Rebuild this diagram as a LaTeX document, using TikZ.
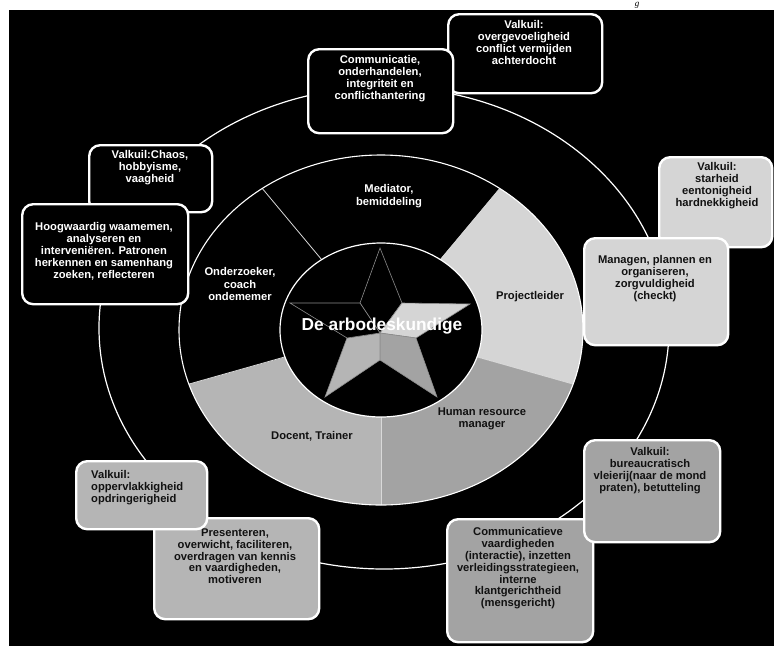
\documentclass[tikz,border=0pt]{standalone}
\usepackage{fontspec}
\setmainfont{Liberation Serif}
\setsansfont{Liberation Sans}
\definecolor{lightgr}{HTML}{D5D5D5}
\definecolor{midgr}{HTML}{B5B5B5}
\definecolor{darkgr}{HTML}{A3A3A3}
\definecolor{stargr}{HTML}{8C8C8C}
\definecolor{ink}{HTML}{111111}
\begin{document}
\begin{tikzpicture}[x=1pt,y=-1pt,
	box/.style={draw=white,line width=2.4pt,rounded corners=11pt,inner sep=0pt,anchor=north west},
	boxtxt/.style={font=\sffamily\bfseries\fontsize{11.2}{11.8}\selectfont,align=center,inner sep=0pt,anchor=north,text=ink},
	ringtxt/.style={font=\sffamily\bfseries\fontsize{11.2}{12.3}\selectfont,align=center,inner sep=0pt,text=ink}]
	\useasboundingbox (0,0) rectangle (774,646);
	\fill (9,10) rectangle (774,646);
	\node[font=\itshape\fontsize{9}{9}\selectfont,anchor=base,inner sep=0pt] (pageg) at (637,6) {g};
	% outer ellipse
	\draw[white,line width=1.2pt] (384,328) ellipse[x radius=285,y radius=241];
	% ring of roles
	\coordinate (ctr) at (381,330);
	\foreach \a/\col in {18/darkgr,90/midgr,162/black,234/black,306/lightgr}
		\fill[\col] (ctr) -- ++(\a:202 and 175) arc[start angle=\a,delta angle=72,x radius=202,y radius=175] -- cycle;
	\foreach \a in {18,90,162,234,306}
		\draw[white!85!black,line width=0.8pt] (ctr) ++(\a:101 and 87) -- ++(\a:101 and 88);
	\draw[white,line width=1.1pt] (ctr) ellipse[x radius=202,y radius=175];
	\filldraw[fill=black,draw=white,line width=1.2pt] (ctr) ellipse[x radius=101,y radius=87];
	% star
	\coordinate (st) at (380,333);
	\coordinate (o1) at (380,248); \coordinate (o2) at (470,304); \coordinate (o3) at (437,397);
	\coordinate (o4) at (325,397); \coordinate (o5) at (290,303);
	\coordinate (i1) at (360,303); \coordinate (i2) at (402,303); \coordinate (i3) at (416,338);
	\coordinate (i4) at (380,360); \coordinate (i5) at (347,338); \coordinate (i6) at (360,303);
	\foreach \k/\n/\col in {1/2/black,2/3/lightgr,3/4/darkgr,4/5/midgr,5/6/black}
		\filldraw[fill=\col,draw=stargr,line width=0.6pt] (st) -- (i\k) -- (o\k) -- (i\n) -- cycle;
	\node[font=\sffamily\bfseries\fontsize{17.3}{17.3}\selectfont,text=white,anchor=base,inner sep=0pt] (centre) at (382,330) {De arbodeskundige};
	% role labels
	\node[ringtxt,text=white] (lblMed) at (389,196) {Mediator,\\bemiddeling};
	\node[ringtxt,text=white] (lblOnd) at (240,284) {Onderzoeker,\\coach\\ondememer};
	\node[ringtxt] (lblPro) at (530,297) {Projectleider};
	\node[ringtxt] (lblHR) at (482,419) {Human resource\\manager};
	\node[ringtxt] (lblDoc) at (312,436) {Docent, Trainer};
	% boxes
	\node[box,fill=black,minimum width=154,minimum height=79] (vkMed) at (447,13) {};
	\node[boxtxt,text=white] (vkMedTxt) at (524,20.5) {Valkuil:\\overgevoeligheid\\conflict vermijden\\achterdocht};
	\node[box,fill=black,minimum width=145,minimum height=84] (comMed) at (307,48) {};
	\node[boxtxt,text=white] (comMedTxt) at (380,55.5) {Communicatie,\\onderhandelen,\\integriteit en\\conflicthantering};
	\node[box,fill=black,minimum width=123,minimum height=67] (vkOnd) at (88,144) {};
	\node[boxtxt,text=white] (vkOndTxt) at (150,150.5) {Valkuil:Chaos,\\hobbyisme,\\vaagheid};
	\node[box,fill=black,minimum width=166,minimum height=100] (comOnd) at (21,203) {};
	\node[boxtxt,text=white] (comOndTxt) at (104,222.5) {Hoogwaardig waamemen,\\analyseren en\\interveniëren. Patronen\\herkennen en samenhang\\zoeken, reflecteren};
	\node[box,fill=lightgr,minimum width=113,minimum height=90] (vkPro) at (658,156) {};
	\node[boxtxt] (vkProTxt) at (717,162.5) {Valkuil:\\starheid\\eentonigheid\\hardnekkigheid};
	\node[box,fill=lightgr,minimum width=144,minimum height=107] (comPro) at (583,237) {};
	\node[boxtxt] (comProTxt) at (655,255.5) {Managen, plannen en\\organiseren,\\zorgvuldigheid\\(checkt)};
	\node[box,fill=midgr,minimum width=165,minimum height=101] (comDoc) at (153,517) {};
	\node[boxtxt] (comDocTxt) at (235,528.5) {Presenteren,\\overwicht, faciliteren,\\overdragen van kennis\\en vaardigheden,\\motiveren};
	\node[box,fill=midgr,minimum width=131,minimum height=68] (vkDoc) at (75,460) {};
	\node[boxtxt,align=left,anchor=north west] (vkDocTxt) at (91,470.5) {Valkuil:\\oppervlakkigheid\\opdringerigheid};
	\node[box,fill=darkgr,minimum width=146,minimum height=123] (comHR) at (446,518) {};
	\node[boxtxt] (comHRTxt) at (518,527.5) {Communicatieve\\vaardigheden\\(interactie), inzetten\\verleidingsstrategieen,\\interne\\klantgerichtheid\\(mensgericht)};
	\node[box,fill=darkgr,minimum width=136,minimum height=102] (vkHR) at (583,439) {};
	\node[boxtxt] (vkHRTxt) at (650,447.5) {Valkuil:\\bureaucratisch\\vleierij(naar de mond\\praten), betutteling};
\end{tikzpicture}
\end{document}
